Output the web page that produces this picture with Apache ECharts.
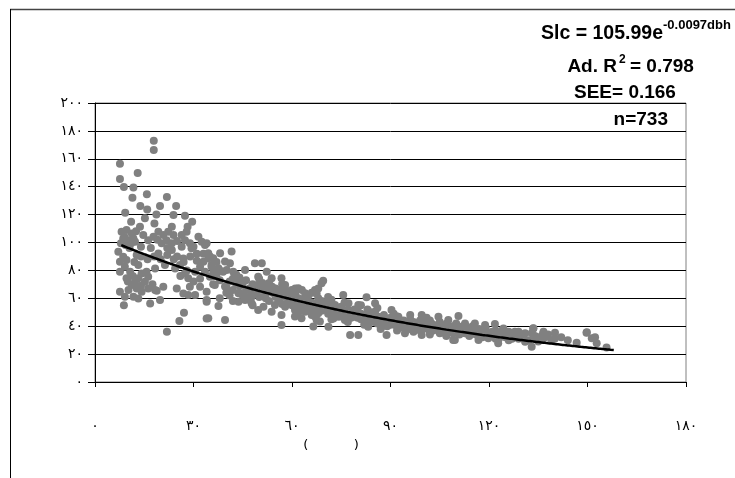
<!DOCTYPE html>
<html>
<head>
<meta charset="utf-8">
<script src="https://cdn.jsdelivr.net/npm/echarts@6/dist/echarts.min.js"></script>
<style>
  html, body { margin: 0; padding: 0; background: #fff; }
  #chart { width: 735px; height: 478px; }
</style>
</head>
<body>
<div id="chart"></div>
<script>
// Tick labels (Arabic-Indic digits)
const xTickLabels = ['٠', '٣٠', '٦٠', '٩٠', '١٢٠', '١٥٠', '١٨٠'];
const yTickLabels = ['٠', '٢٠', '٤٠', '٦٠', '٨٠', '١٠٠', '١٢٠', '١٤٠', '١٦٠', '١٨٠', '٢٠٠'];

// Fitted model: Slc = a * e^(b * dbh)
const fitCoef = [105.99, -0.0097];
const fitRange = [8, 158];

// Observed trees: diameter (x) and response (y), small diameters
const obsSmall = [
  [17.9,173.0],[17.9,166.3],[7.6,156.5],[7.6,145.5],[13.0,149.8],[8.8,139.8],[11.7,139.5],[11.4,132.1],
  [15.8,134.5],[21.9,132.6],[13.8,126.1],[15.9,123.7],[19.8,126.1],[24.7,126.1],[9.2,121.3],[18.7,120.1],
  [23.9,119.7],[27.4,119.2],[15.2,117.3],[11.0,114.9],[29.6,114.9],[18.1,113.7],[13.7,111.3],[23.4,111.3],
  [28.2,111.3],[8.1,107.7],[9.6,108.9],[11.2,106.5],[8.6,102.9],[10.2,101.7],[11.7,102.9],[7.9,99.4],
  [9.3,98.2],[11.0,99.4],[12.2,100.6],[14.7,105.3],[16.2,101.7],[17.8,104.1],[19.3,107.7],[20.8,105.3],
  [22.3,107.7],[23.9,105.3],[21.8,101.7],[20.3,99.4],[23.4,99.4],[26.4,105.3],[27.9,107.7],[27.4,101.7],
  [28.9,99.4],[31.5,104.1],[32.5,100.6],[33.5,98.2],[26.4,97.0],[29.4,95.8],[7.1,93.4],[8.6,89.8],
  [9.6,87.4],[7.6,86.2],[9.1,82.6],[7.6,79.0],[10.7,79.0],[12.7,91.0],[13.2,83.8],[14.2,77.8],
  [15.7,79.0],[16.2,75.5],[18.3,81.4],[19.3,92.2],[21.3,83.8],[23.4,94.6],[24.4,81.4],[25.9,83.8],
  [26.9,88.6],[27.4,77.8],[28.4,74.3],[30.5,79.0],[32.0,82.6],[33.0,86.2],[33.5,79.0],[34.5,88.6],
  [35.5,83.8],[35.0,75.5],[36.0,79.0],[9.6,74.3],[11.2,69.5],[12.2,71.9],[13.2,74.3],[15.2,71.9],
  [12.7,67.1],[14.2,64.7],[16.2,67.1],[18.3,65.9],[20.8,68.3],[10.2,65.9],[7.6,64.7],[9.1,61.1],
  [11.7,61.1],[13.2,59.9],[16.8,56.3],[18.8,65.4],[19.8,58.7],[8.8,55.1],[24.9,67.1],[26.9,63.5],
  [28.9,68.3],[30.5,62.3],[28.4,62.3],[32.0,68.3],[34.0,64.7],[34.0,57.5],[27.1,49.6],[25.7,43.7],
  [34.0,45.6],[21.9,36.0],[9.0,104.0],[10.5,96.0],[12.5,108.0],[14.0,97.0],[17.0,96.0],[19.0,102.0],
  [22.0,96.0],[25.0,101.0],[30.0,97.0],[31.0,92.0],[10.0,72.0],[11.5,76.0],[14.0,69.0],[17.5,70.0],
  [25,90],[27,86],[29,90],[31,87],[33,92],[35,90],[37,86],[38,80],[36,76],[30,72],[32,74],[28,80],
  [26,76],[24,88],[22,91],[20,88],[18,90],[16,88],[14,90],[12,86]
];

// Observed trees, middle diameters
const obsMid = [
  [34.0,99.4],[34.5,92.3],[36.0,88.7],[38.1,92.3],[41.6,93.5],[39.6,86.3],[41.1,85.1],[35.5,82.7],
  [37.6,81.5],[40.1,80.3],[42.1,79.1],[45.7,80.3],[48.7,85.1],[50.8,85.1],[52.3,79.1],[43.7,74.3],
  [49.7,75.5],[53.8,74.3],[56.8,74.3],[36.5,69.6],[39.6,68.4],[44.7,70.7],[46.7,65.9],[49.7,69.6],
  [53.8,68.4],[57.9,69.6],[59.9,65.9],[61.9,67.2],[64.0,63.6],[67.0,65.9],[69.0,70.7],[43.7,63.6],
  [47.7,61.2],[51.8,61.2],[55.8,62.4],[58.9,58.8],[61.9,58.8],[65.0,57.6],[68.0,56.4],[34.0,58.8],
  [37.6,54.5],[43.7,57.6],[47.7,56.4],[51.3,54.0],[54.8,55.2],[57.9,54.0],[60.9,51.6],[64.0,50.4],
  [66.0,48.0],[68.0,49.2],[56.8,48.0],[56.8,40.9],[66.5,39.7],[68.5,43.3],[34.5,45.7],[39.6,44.5],
  [60.9,46.9],[62.9,45.7],[53.8,50.4],[49.7,51.6],[45.7,58.8],
  [69.5,72.6],[68.0,67.1],[67.5,63.5],[71.1,58.8],[75.6,62.3],[82.7,60.7],[69.0,52.8],[73.1,55.2],
  [77.2,56.4],[80.2,55.2],[85.3,56.4],[67.5,44.4],[71.1,39.6],[74.1,46.8],[77.7,33.7],[80.2,33.7],
  [83.2,39.6],[86.3,46.8],[88.8,33.7],[90.3,51.6],[92.4,46.8],[94.4,34.9],[96.4,42.0],[99.5,48.0],
  [99.5,33.7],[102.5,42.0],[104.6,46.8],[107.1,42.0],[109.1,30.1],[76.1,44.4],[79.2,46.8],[82.2,43.2],
  [87.3,39.6],[91.4,40.8],[95.4,38.4],[72.6,45.6],[85.3,50.4],[78.2,50.4],[74.1,51.6]
];

// Dense band along the fitted curve
const obsBand = [
  [41,72],[42,66],[43,77],[44,69],[45,62],[46,73],[47,67],[48,70],[49,63],[50,74],[51,66],[52,60],
  [53,71],[54,64],[55,67],[56,58],[57,62],[58,66],[59,56],[60,60],[61,63],[62,55],[63,59],[64,61],
  [65,53],[66,57],[67,50],[68,54],[69,58],[70,52],[71,49],[72,55],[73,50],[74,53],[75,47],[76,51],
  [77,45],[78,49],[79,52],[80,46],[81,49],[82,44],[83,47],[84,50],[85,43],[86,46],[87,42],[88,48],
  [89,44],[90,41],[91,45],[92,43],[93,39],[94,44],[95,41],[96,38],[97,43],[98,40],[99,37],[100,42],
  [101,39],[102,36],[103,41],[104,38],[105,35],[106,40],[107,37],[108,39],[109,35],[110,38],[111,34],
  [112,37],[113,39],[114,33],[115,36],[116,34],[117,38],[118,32],[119,35],[120,33],[121,36],[122,31],
  [123,34],[124,37],[125,32],[126,30],[127,33],[129,31],[130,34],[132,30],[134,33],[135,29],[137,32],
  [139,30],[38,60],[40,64],[42,58],[44,75],[46,61],[48,55],[52,67],[56,63],[60,55],[64,53],
  [36,70],[37,76],[38,73],[39,79],[40,68],[41,62],[42,74],[43,70],[44,64],[45,71],[46,66],[47,59],
  [48,64],[49,69],[50,61],[51,71],[52,64],[53,58],[54,68],[55,61],[56,66],[57,56],[58,61],[59,64],
  [60,57],[61,67],[62,60],[63,54],[64,58],[65,62],[66,52],[67,56],[68,60],[69,51],[70,56],[71,53],
  [72,59],[73,47],[74,50],[75,54],[76,48],[77,52],[78,46],[79,49],[80,51],[81,45],[82,48],[83,52],
  [84,44],[85,48],[86,42],[87,46],[88,44],[89,40],[90,46],[91,42],[92,47],[93,44],[94,40],[95,43],
  [96,45],[97,39],[98,42],[99,44],[100,38],[101,42],[102,44],[103,37],[104,40],[105,43],[106,36],
  [107,41],[108,36],[109,40],[110,42],[111,37],[112,40],[113,35],[114,38],[115,40],[116,36],[117,33],
  [118,37],[119,39],[120,35],[121,33],[122,37],[123,31],[124,35],[125,34],[126,36],[127,31],[128,34],
  [129,36],[130,32],[131,30],[133,35],[134,31],[136,33],[138,34],[140,31],[142,32],[144,30],
  [57,70],[63,66],[66,64],[71,61],[76,57],[81,55],[86,53],[91,49],[96,48],[101,46],
  [62,50],[67,47],[72,45],[77,43],[82,41],[87,38],[92,37],[97,36],[102,34],[107,33]
];

// Observed trees, large diameters
const obsLarge = [
  [110.7,47.3],[107.6,44.4],[112.7,42.0],[115.7,42.0],[118.8,40.8],[121.8,41.5],[124.4,38.4],[127.9,36.0],
  [131.0,34.9],[133.5,38.4],[136.5,34.9],[140.1,35.3],[136.5,31.3],[133.0,25.3],[131.0,28.9],[109.6,30.1],
  [116.8,30.1],[119.8,31.3],[122.8,27.7],[126.9,31.3],[149.7,35.3],[151.3,31.3],[152.8,27.7],[146.7,28.1],
  [155.8,24.8],[106.6,34.9],[112.7,34.9],[114.7,37.2],[120.8,34.9],[125.9,34.9],[128.9,32.5],[117.8,37.2],
  [149.8,35.6],[152.3,32.0],[136.6,36.1],[136.6,32.5],[133.5,38.5]
];

const observed = obsSmall.concat(obsMid, obsBand, obsLarge);

// Fitted curve evaluated across the observed diameter range
const fitted = [];
for (let d = fitRange[0]; d <= fitRange[1]; d += 1) {
  fitted.push([d, fitCoef[0] * Math.exp(fitCoef[1] * d)]);
}

const labelFont = 'DejaVu Sans, sans-serif';
const boldFont = 'Liberation Sans, Arial, sans-serif';

const chart = echarts.init(document.getElementById('chart'), null, { renderer: 'canvas' });

chart.setOption({
  animation: false,
  backgroundColor: '#ffffff',
  grid: {
    left: 95, right: 49, top: 103, bottom: 96,
    show: true, borderColor: '#808080', borderWidth: 1, backgroundColor: 'transparent'
  },
  xAxis: {
    type: 'value', min: 0, max: 180, interval: 30,
    axisLine: { show: true, onZero: false, lineStyle: { color: '#000', width: 1 } },
    axisTick: { show: true, inside: false, length: 5, lineStyle: { color: '#000' } },
    splitLine: { show: false },
    axisLabel: {
      margin: 37, color: '#000', fontFamily: labelFont, fontSize: 14,
      formatter: v => xTickLabels[Math.round(v / 30)]
    }
  },
  yAxis: {
    type: 'value', min: 0, max: 200, interval: 20,
    axisLine: { show: true, onZero: false, lineStyle: { color: '#000', width: 1 } },
    axisTick: { show: true, inside: false, length: 7, lineStyle: { color: '#000' } },
    splitLine: { show: true, lineStyle: { color: '#000', width: 1 } },
    axisLabel: {
      margin: 12, color: '#000', fontFamily: labelFont, fontSize: 14,
      formatter: v => yTickLabels[Math.round(v / 20)]
    }
  },
  series: [
    {
      type: 'scatter', data: observed, symbol: 'circle', symbolSize: 8,
      itemStyle: { color: '#808080', opacity: 1 }, z: 2
    },
    {
      type: 'line', data: fitted, showSymbol: false, smooth: true,
      lineStyle: { color: '#000', width: 2.5 }, z: 3
    }
  ],
  graphic: [
    // chart frame
    { type: 'line', shape: { x1: 10, y1: 9.5, x2: 735, y2: 9.5 }, style: { stroke: '#444', lineWidth: 1.6 } },
    { type: 'line', shape: { x1: 10.5, y1: 9, x2: 10.5, y2: 478 }, style: { stroke: '#000', lineWidth: 1 } },
    // equation and statistics
    { type: 'text', x: 663, y: 34, style: { text: 'Slc = 105.99e', font: 'bold 19.5px ' + boldFont, fill: '#000', align: 'right', verticalAlign: 'middle' } },
    { type: 'text', x: 663, y: 25, style: { text: '-0.0097dbh', font: 'bold 13px ' + boldFont, fill: '#000', align: 'left', verticalAlign: 'middle' } },
    { type: 'text', x: 617, y: 67, style: { text: 'Ad. R', font: 'bold 19px ' + boldFont, fill: '#000', align: 'right', verticalAlign: 'middle' } },
    { type: 'text', x: 619, y: 60, style: { text: '2', font: 'bold 12px ' + boldFont, fill: '#000', align: 'left', verticalAlign: 'middle' } },
    { type: 'text', x: 630, y: 67, style: { text: '= 0.798', font: 'bold 19px ' + boldFont, fill: '#000', align: 'left', verticalAlign: 'middle' } },
    { type: 'text', x: 574, y: 93, style: { text: 'SEE= 0.166', font: 'bold 19px ' + boldFont, fill: '#000', align: 'left', verticalAlign: 'middle' } },
    { type: 'text', x: 668, y: 120, style: { text: 'n=733', font: 'bold 19px ' + boldFont, fill: '#000', align: 'right', verticalAlign: 'middle' } },
    // x-axis title
    { type: 'text', x: 331, y: 446, style: { text: '(           )', font: '13px ' + labelFont, fill: '#000', align: 'center', verticalAlign: 'middle' } }
  ]
});
</script>
</body>
</html>
